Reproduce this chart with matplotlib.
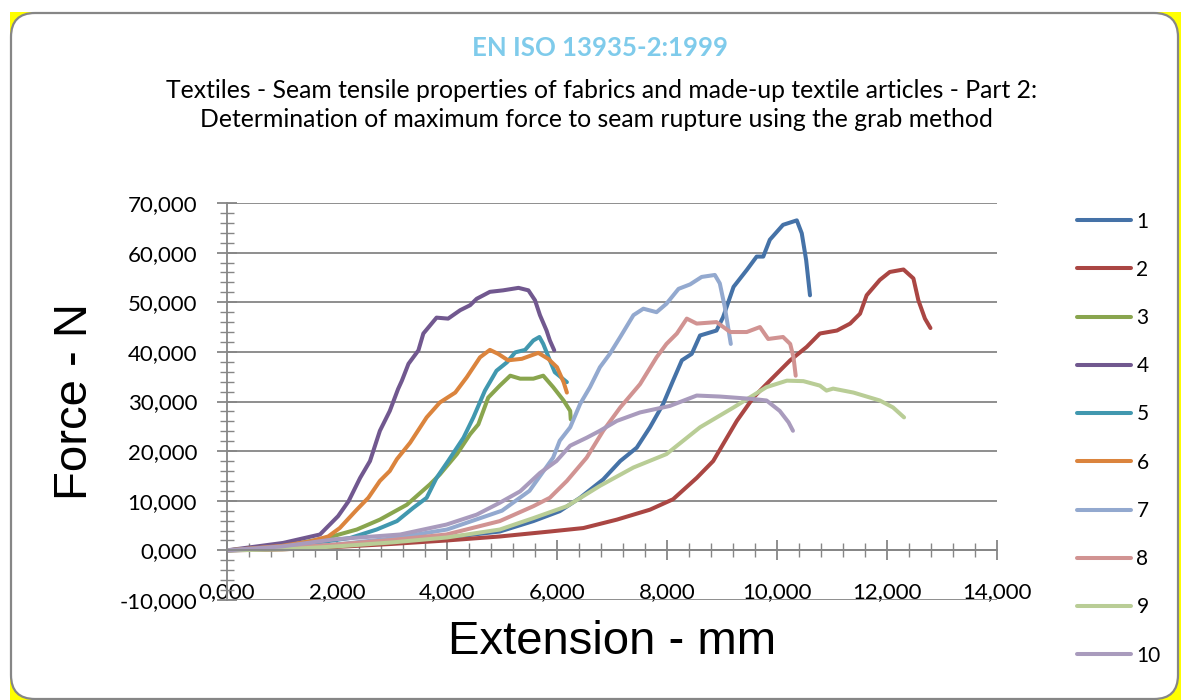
import matplotlib
matplotlib.use("Agg")
from matplotlib import pyplot as plt
from matplotlib.patches import Rectangle, FancyBboxPatch
from matplotlib.transforms import IdentityTransform
from matplotlib.ticker import MultipleLocator, FuncFormatter

# Extension (mm) / force (N), one pair of lists per specimen
x1 = [0, 1.0, 2.0, 3.0, 4.0, 4.96, 5.57, 6.05, 6.42, 6.84, 7.15, 7.45, 7.69, 7.93, 8.11, 8.27, 8.45, 8.60,
      8.90, 9.02, 9.21, 9.45, 9.63, 9.75, 9.87, 10.11, 10.36, 10.45, 10.53, 10.60]
y1 = [0, 0.3, 0.8, 1.6, 2.6, 3.8, 5.9, 7.9, 10.6, 14.3, 18.0, 20.7, 24.8, 29.5, 34.2, 38.3, 39.6, 43.3,
      44.3, 47.0, 53.1, 56.5, 59.2, 59.2, 62.6, 65.6, 66.5, 63.9, 58.5, 51.4]

x2 = [0, 1, 2, 3, 4, 4.96, 5.87, 6.48, 7.09, 7.69, 8.11, 8.54, 8.84, 9.02, 9.27, 9.57, 9.87, 10.24, 10.54,
      10.78, 11.09, 11.33, 11.51, 11.63, 11.87, 12.05, 12.30, 12.48, 12.57, 12.69, 12.79]
y2 = [0, 0.2, 0.7, 1.3, 2.0, 2.8, 3.8, 4.5, 6.2, 8.2, 10.3, 14.6, 18.0, 21.4, 26.1, 30.8, 34.2, 38.3, 41.0,
      43.7, 44.3, 45.7, 47.7, 51.4, 54.5, 56.1, 56.6, 54.8, 50.4, 46.7, 44.8]

x3 = [0, 1.0, 1.81, 2.36, 2.78, 3.27, 3.69, 3.87, 4.18, 4.42, 4.57, 4.75, 4.96, 5.15, 5.33, 5.57, 5.75,
      5.93, 6.12, 6.24, 6.25]
y3 = [0, 0.8, 2.5, 4.2, 6.2, 9.2, 13.3, 15.3, 19.4, 23.4, 25.4, 30.8, 33.2, 35.2, 34.6, 34.6, 35.2,
      32.9, 30.2, 28.1, 26.4]

x4 = [0, 1.02, 1.69, 2.02, 2.21, 2.42, 2.60, 2.78, 2.96, 3.11, 3.18, 3.30, 3.48, 3.57, 3.81, 4.02, 4.24,
      4.42, 4.54, 4.78, 5.02, 5.30, 5.48, 5.60, 5.69, 5.81, 5.87, 5.95]
y4 = [0, 1.5, 3.2, 6.9, 9.9, 14.6, 18.0, 24.1, 28.1, 32.5, 34.2, 37.6, 40.3, 43.7, 46.9, 46.7, 48.4,
      49.4, 50.7, 52.1, 52.4, 52.9, 52.4, 50.4, 47.4, 44.3, 42.3, 40.3]

x5 = [0, 1.0, 1.8, 2.24, 2.72, 3.09, 3.39, 3.63, 3.81, 4.02, 4.30, 4.48, 4.69, 4.90, 5.09, 5.24, 5.42,
      5.57, 5.68, 5.75, 5.87, 5.96, 6.18]
y5 = [0, 0.7, 1.8, 2.5, 4.2, 5.9, 8.6, 10.6, 14.6, 18.0, 22.7, 26.8, 32.2, 36.2, 37.9, 39.9, 40.4,
      42.3, 43.0, 41.6, 38.3, 35.9, 33.9]

x6 = [0, 1.0, 1.51, 1.84, 2.05, 2.36, 2.57, 2.78, 2.96, 3.09, 3.33, 3.63, 3.87, 4.15, 4.36, 4.60, 4.78,
      4.93, 5.11, 5.36, 5.66, 5.84, 6.00, 6.12, 6.18]
y6 = [0, 0.9, 1.8, 2.8, 4.5, 8.2, 10.6, 14.0, 16.0, 18.4, 21.7, 26.8, 29.8, 31.8, 34.9, 38.9, 40.4,
      39.6, 38.3, 38.6, 39.8, 38.6, 36.9, 33.9, 31.8]

x7 = [0, 1, 2, 3, 4, 5, 5.5, 5.93, 6.05, 6.24, 6.42, 6.60, 6.78, 6.96, 7.15, 7.39, 7.57, 7.81, 7.99,
      8.21, 8.42, 8.63, 8.87, 8.96, 9.05, 9.11, 9.16]
y7 = [0, 0.4, 1.2, 2.4, 4.2, 8.0, 12.0, 18.7, 22.1, 24.8, 29.5, 32.9, 36.9, 39.6, 43.0, 47.4, 48.7, 48.0,
      49.7, 52.7, 53.6, 55.1, 55.5, 53.8, 49.1, 45.0, 41.6]

x8 = [0, 1, 2, 3, 3.99, 4.96, 5.57, 5.87, 6.18, 6.54, 6.84, 7.15, 7.51, 7.81, 7.99, 8.18, 8.36, 8.54,
      8.90, 9.15, 9.45, 9.69, 9.84, 10.11, 10.24, 10.30, 10.34]
y8 = [0, 0.4, 1.2, 2.1, 3.2, 5.9, 8.9, 10.6, 14.0, 18.7, 24.1, 28.8, 33.5, 38.9, 41.6, 43.7, 46.7, 45.7,
      46.0, 44.0, 44.0, 45.0, 42.6, 43.0, 41.6, 38.9, 35.2]

x9 = [0, 1, 2, 3, 4, 4.96, 5.57, 6.18, 6.78, 7.39, 7.99, 8.60, 9.21, 9.81, 10.18, 10.48, 10.78, 10.90,
      11.02, 11.39, 11.87, 12.11, 12.31]
y9 = [0, 0.2, 0.8, 1.6, 2.6, 4.2, 6.5, 8.9, 13.0, 16.7, 19.4, 24.8, 28.8, 32.9, 34.2, 34.1, 33.2, 32.2,
      32.6, 31.8, 30.2, 28.8, 26.8]

x10 = [0, 1.0, 1.93, 3.15, 3.99, 4.54, 4.96, 5.33, 5.69, 5.99, 6.24, 6.54, 6.78, 7.09, 7.51, 8.05, 8.54,
       8.96, 9.57, 9.81, 10.05, 10.21, 10.29]
y10 = [0, 0.8, 2.2, 3.2, 5.2, 7.2, 9.6, 11.9, 15.6, 18.0, 21.1, 22.7, 24.1, 26.1, 27.8, 29.1, 31.2,
       31.0, 30.5, 30.2, 28.1, 25.8, 24.1]

labels = ["1", "2", "3", "4", "5", "6", "7", "8", "9", "10"]
xs = [x1, x2, x3, x4, x5, x6, x7, x8, x9, x10]
ys = [y1, y2, y3, y4, y5, y6, y7, y8, y9, y10]
colors = ["#4572A7", "#AA4643", "#89A54E", "#71588F", "#4198AF",
          "#DB843D", "#93A9CF", "#D19392", "#B9CD96", "#A99BBD"]

plt.rcParams['font.family'] = ['Lato', 'DejaVu Sans']

fig = plt.figure(figsize=(11.81, 7), dpi=100)
fig.patch.set_facecolor("white")

# yellow page behind a rounded white chart frame
fig.patches.append(Rectangle((10, 0), 1200, 688, transform=IdentityTransform(),
                             facecolor="#ffff00", edgecolor="none", zorder=-3))
fig.patches.append(FancyBboxPatch((11, 1), 1167, 686, boxstyle="round,pad=0,rounding_size=24",
                                  transform=IdentityTransform(), facecolor="white",
                                  edgecolor="#868686", linewidth=1.6, zorder=-2))

ax = fig.add_axes([227 / 1181, 100 / 700, 770 / 1181, 397 / 700])
ax.set_facecolor("none")

for x, y, c, lab in zip(xs, ys, colors, labels):
    ax.plot(x, y, color=c, lw=2.9, label=lab, solid_capstyle="round", solid_joinstyle="round")

ax.set_xlim(0, 14)
ax.set_ylim(-10, 70)

grey = "#868686"
for s in ["top", "right"]:
    ax.spines[s].set_visible(False)
ax.spines["bottom"].set_position(("data", 0))
ax.spines["bottom"].set_color(grey)
ax.spines["left"].set_color(grey)
ax.spines["bottom"].set_linewidth(1.3)
ax.spines["left"].set_linewidth(1.3)

ax.xaxis.set_major_locator(MultipleLocator(2))
ax.xaxis.set_minor_locator(MultipleLocator(0.4))
ax.yaxis.set_major_locator(MultipleLocator(10))
ax.yaxis.set_minor_locator(MultipleLocator(2))

fmt = FuncFormatter(lambda v, p: f"{v:.3f}".replace(".", ","))
ax.xaxis.set_major_formatter(fmt)
ax.yaxis.set_major_formatter(fmt)

ax.yaxis.grid(True, which="major", color=grey, lw=1.3)
ax.set_axisbelow(True)

ax.tick_params(which="major", direction="inout", length=15, width=1.3, color=grey, labelsize=16)
ax.tick_params(which="minor", direction="inout", length=10, width=1.0, color=grey)
ax.tick_params(axis="x", which="major", pad=15)
ax.tick_params(axis="y", which="major", pad=14)

fig.text(0.508, 0.931, "EN ISO 13935-2:1999", ha="center", va="center",
         fontsize=18.5, fontweight="bold", color="#7fcbeb")
fig.text(0.509, 0.871, "Textiles - Seam tensile properties of fabrics and made-up textile articles - Part 2:",
         ha="center", va="center", fontsize=17.8)
fig.text(0.505, 0.829, "Determination of maximum force to seam rupture using the grab method",
         ha="center", va="center", fontsize=17.8)

fig.text(0.0635, 0.427, "Force - N", rotation=90, ha="center", va="center",
         fontsize=34, family="Liberation Sans")
fig.text(0.518, 0.083, "Extension - mm", ha="center", va="center",
         fontsize=34, family="Liberation Sans")

ax.legend(loc="upper left", bbox_to_anchor=(1077 / 1181, 1 - 211.5 / 700),
          bbox_transform=fig.transFigure, frameon=False, fontsize=15,
          handlelength=2.6, handletextpad=0.25, labelspacing=1.355,
          borderpad=0, borderaxespad=0)

fig.savefig("out.png", dpi=100)
